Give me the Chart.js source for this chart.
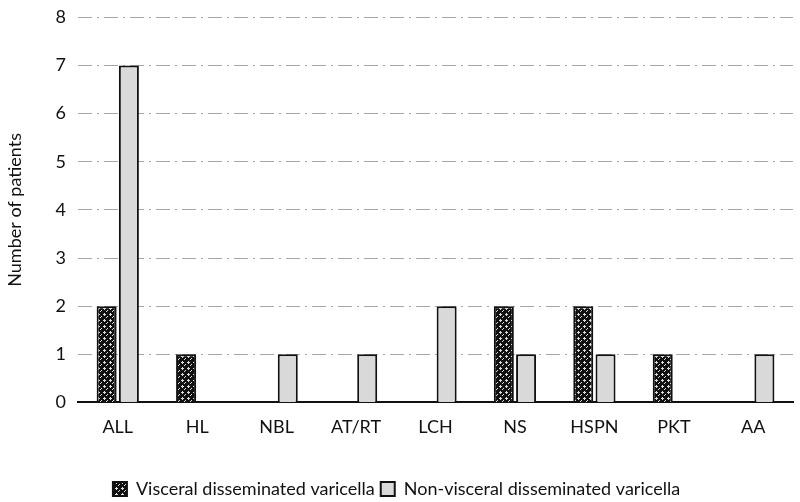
<!DOCTYPE html>
<html>
<head>
<meta charset="utf-8">
<script src="https://cdn.jsdelivr.net/npm/chart.js@4"></script>
<style>
  html, body { margin: 0; padding: 0; background: #fff; }
  #wrap { width: 800px; height: 502px; }
</style>
</head>
<body>
<div id="wrap"><canvas id="chart"></canvas></div>
<script>
const categories = ['ALL', 'HL', 'NBL', 'AT/RT', 'LCH', 'NS', 'HSPN', 'PKT', 'AA'];
const visceral = [2, 1, 0, 0, 0, 2, 2, 1, 0];
const nonVisceral = [7, 0, 1, 1, 2, 1, 1, 0, 1];
const yTicks = [0, 1, 2, 3, 4, 5, 6, 7, 8];

// dark cross-hatch fill for the visceral series
function makeHatch() {
    const c = document.createElement('canvas');
    c.width = 6; c.height = 6;
    const g = c.getContext('2d');
    g.fillStyle = '#111';
    g.fillRect(0, 0, 6, 6);
    g.fillStyle = '#ddd';
    g.fillRect(1, 2, 3, 1);
    g.fillRect(2, 1, 1, 3);
    g.fillRect(4, 5, 1, 1);
    g.fillRect(5, 4, 1, 1);
    return g.createPattern(c, 'repeat');
}

const hatch = makeHatch();
const font = "'Lato', 'Open Sans', sans-serif";

// push the legend a little lower, as in the original figure
const legendShift = {
    id: 'legendShift',
    afterLayout(chart) {
        const lg = chart.legend;
        lg.top += 6;
        lg.bottom += 6;
        if (lg.legendHitBoxes) lg.legendHitBoxes.forEach(b => { b.top += 6; });
    }
};

new Chart(document.getElementById('chart'), {
    type: 'bar',
    data: {
        labels: categories,
        datasets: [{
            label: 'Visceral disseminated varicella',
            data: visceral,
            backgroundColor: hatch,
            borderColor: '#111',
            borderWidth: 2,
            barPercentage: 0.9,
            categoryPercentage: 0.56
        }, {
            label: 'Non-visceral disseminated varicella',
            data: nonVisceral,
            backgroundColor: '#d9d9d9',
            borderColor: '#111',
            borderWidth: 2,
            barPercentage: 0.9,
            categoryPercentage: 0.56
        }]
    },
    options: {
        responsive: true,
        maintainAspectRatio: false,
        animation: false,
        layout: { padding: { left: 0, right: 7, top: 0, bottom: 0 } },
        scales: {
            x: {
                grid: { display: false, drawTicks: false },
                border: { display: true, color: '#111', width: 2 },
                ticks: { color: '#111', font: { family: font, size: 18 }, padding: 14 },
                afterFit: scale => { scale.height += 16; }
            },
            y: {
                min: 0,
                max: 8,
                afterBuildTicks: axis => { axis.ticks = yTicks.map(v => ({ value: v })); },
                grid: { color: '#a6a6a6', lineWidth: 1, drawTicks: false },
                border: { display: false, dash: [14, 5, 2, 5] },
                ticks: { color: '#111', font: { family: font, size: 18, lineHeight: 0.6 }, padding: 12 },
                title: {
                    display: true,
                    text: 'Number of patients',
                    color: '#111',
                    font: { family: font, size: 18 },
                    padding: { top: 4, bottom: 18 }
                }
            }
        },
        plugins: {
            legend: {
                position: 'bottom',
                labels: {
                    color: '#111',
                    font: { family: font, size: 18 },
                    boxWidth: 14,
                    boxHeight: 14,
                    padding: 6
                }
            },
            tooltip: { enabled: false }
        }
    },
    plugins: [legendShift]
});
</script>
</body>
</html>
